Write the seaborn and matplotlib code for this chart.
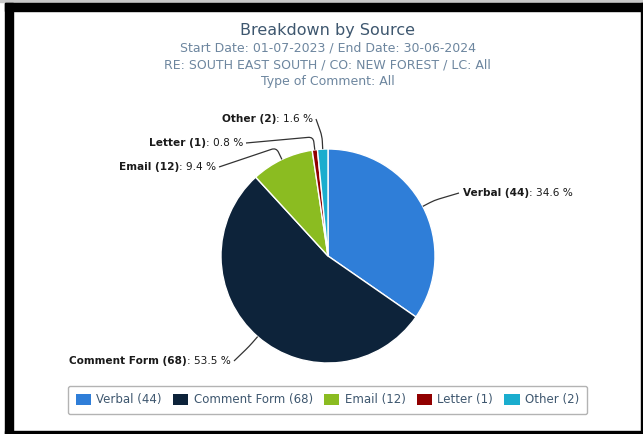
import numpy as np
import matplotlib
matplotlib.use("Agg")
import matplotlib.pyplot as plt
from matplotlib.patches import Rectangle, PathPatch
from matplotlib.path import Path
import seaborn as sns

# ---- data ----
sources = ["Verbal", "Comment Form", "Email", "Letter", "Other"]
counts = [44, 68, 12, 1, 2]
colors = ["#2f7ed8", "#0d233a", "#8bbc21", "#910000", "#1aadce"]
title = "Breakdown by Source"
subtitle_lines = [
    "Start Date: 01-07-2023 / End Date: 30-06-2024",
    "RE: SOUTH EAST SOUTH / CO: NEW FOREST / LC: All",
    "Type of Comment: All",
]

# ---- layout (pixel units, y measured from the top) ----
W, H = 643, 434
cx, cy, radius = 328, 256, 107
label_layout = {
    "Verbal": (463, 193, "left"),
    "Comment Form": (231, 361, "right"),
    "Email": (216, 167, "right"),
    "Letter": (243, 143, "right"),
    "Other": (313, 119, "right"),
}

sns.set_theme(style="white")
plt.rcParams["font.family"] = ["DejaVu Sans"]

fig = plt.figure(figsize=(W / 100, H / 100), dpi=100)
fig.patch.set_facecolor("white")
ax = fig.add_axes([0, 0, 1, 1])


def Y(y):
    return H - y


palette = sns.color_palette(colors)
wedges, _ = ax.pie(
    counts,
    colors=palette,
    startangle=90,
    counterclock=False,
    center=(cx, Y(cy)),
    radius=radius,
    wedgeprops=dict(edgecolor="white", linewidth=1),
)
ax.set_xlim(0, W)
ax.set_ylim(0, H)
ax.set_aspect("auto")
ax.axis("off")

# ---- titles ----
title_color = "#3e576f"
sub_color = "#6d869f"
ax.text(W / 2 + 6, Y(31), title, ha="center", va="center", fontsize=11.5, color=title_color)
for i, line in enumerate(subtitle_lines):
    ax.text(W / 2 + 6, Y(48 + 16.5 * i), line, ha="center", va="center", fontsize=9.0, color=sub_color)

# ---- data labels with connectors ----
total = sum(counts)
fig.canvas.draw()
renderer = fig.canvas.get_renderer()
label_fs = 7.6
for w, name, cnt in zip(wedges, sources, counts):
    pct = 100.0 * cnt / total
    bold_txt = f"{name} ({cnt})"
    norm_txt = f": {pct:.1f} %"
    lx, ly, side = label_layout[name]
    if side == "left":
        t1 = ax.text(lx, Y(ly), bold_txt, ha="left", va="center", fontsize=label_fs,
                     fontweight="bold", color="#1a1a1a")
        w1 = t1.get_window_extent(renderer).width
        ax.text(lx + w1, Y(ly), norm_txt, ha="left", va="center", fontsize=label_fs, color="#1a1a1a")
        anchor = np.array([lx - 4, Y(ly)])
    else:
        t2 = ax.text(lx, Y(ly), norm_txt, ha="right", va="center", fontsize=label_fs, color="#1a1a1a")
        w2 = t2.get_window_extent(renderer).width
        ax.text(lx - w2, Y(ly), bold_txt, ha="right", va="center", fontsize=label_fs,
                fontweight="bold", color="#1a1a1a")
        anchor = np.array([lx + 3, Y(ly)])

    mid = np.deg2rad((w.theta1 + w.theta2) / 2)
    cxy = np.array(w.center)
    edge = cxy + w.r * np.array([np.cos(mid), np.sin(mid)])
    knee = cxy + (w.r + 13) * np.array([np.cos(mid), np.sin(mid)])
    d = 5.0
    a = knee - d * (knee - anchor) / np.linalg.norm(knee - anchor)
    b = knee + d * (edge - knee) / np.linalg.norm(edge - knee)
    path = Path([anchor, a, knee, b, edge],
                [Path.MOVETO, Path.LINETO, Path.CURVE3, Path.CURVE3, Path.LINETO])
    ax.add_patch(PathPatch(path, fill=False, edgecolor="#333333", lw=0.9))

# ---- legend ----
leg = ax.legend(
    wedges,
    [f"{s} ({c})" for s, c in zip(sources, counts)],
    ncol=5,
    loc="center",
    bbox_to_anchor=(327.5 / W, Y(400) / H),
    frameon=True,
    fancybox=True,
    edgecolor="#a0a0a0",
    fontsize=8.5,
    handlelength=1.3,
    handleheight=1.0,
    handletextpad=0.45,
    columnspacing=0.95,
    borderpad=0.65,
)
for t in leg.get_texts():
    t.set_color(title_color)
for h in leg.legend_handles:
    h.set_edgecolor("none")
leg.get_frame().set_linewidth(1.0)

# ---- screen frame ----
black = "black"
fig.add_artist(Rectangle((0, 1 - 1.5 / H), 1, 1.5 / H, transform=fig.transFigure, color="#c8c8c8"))
fig.add_artist(Rectangle((5 / W, 1 - 11 / H), 1 - 5 / W, 8.5 / H, transform=fig.transFigure, color=black))
fig.add_artist(Rectangle((5 / W, 0), 8 / W, 1 - 2.5 / H, transform=fig.transFigure, color=black))
fig.add_artist(Rectangle((641 / W, 0), 2 / W, 1 - 2.5 / H, transform=fig.transFigure, color=black))
fig.add_artist(Rectangle((5 / W, 0), 1 - 5 / W, 3 / H, transform=fig.transFigure, color=black))

fig.savefig("out.png", dpi=100, facecolor="white")
